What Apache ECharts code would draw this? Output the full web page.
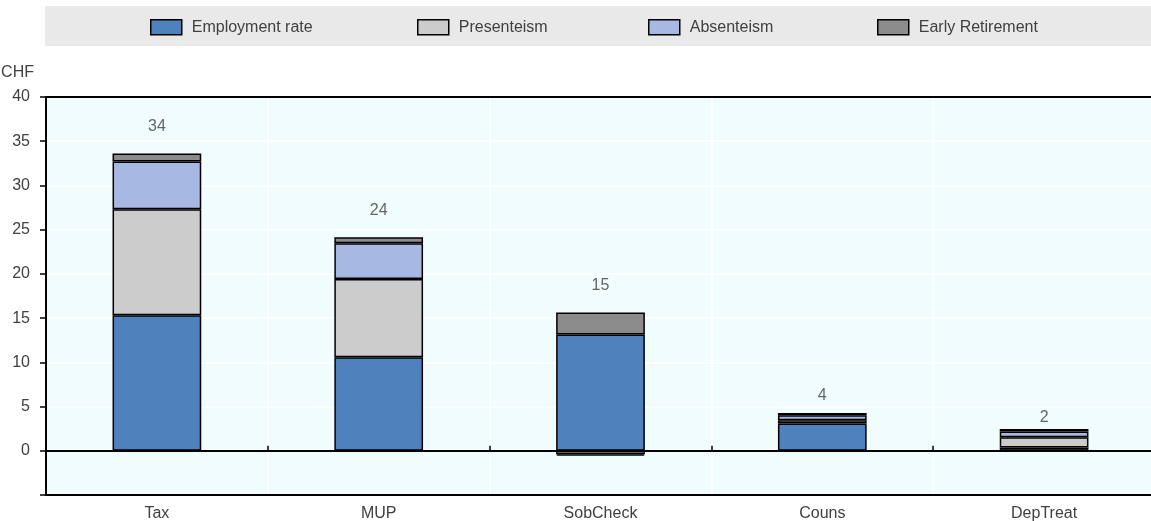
<!DOCTYPE html>
<html>
<head>
<meta charset="utf-8">
<script src="https://cdn.jsdelivr.net/npm/echarts@6/dist/echarts.min.js"></script>
<style>
  html, body { margin: 0; padding: 0; background: #ffffff; }
  #chart { width: 1151px; height: 521px; }
</style>
</head>
<body>
<div id="chart"></div>
<script>
// Net benefit per intervention, split by outcome channel (CHF)
const categories = ['Tax', 'MUP', 'SobCheck', 'Couns', 'DepTreat'];
const employmentRate = [15.33, 10.57, 13.14, 3.09, 0.37];
const presenteeism = [11.98, 8.84, -0.40, 0.37, 1.15];
const absenteeism = [5.39, 4.05, -0.15, 0.57, 0.65];
const earlyRetirement = [0.91, 0.68, 2.50, 0.23, 0.28];
const yTicks = [-5, 0, 5, 10, 15, 20, 25, 30, 35, 40];

const FONT = '"Liberation Sans", Arial, sans-serif';
const TEXT = '#404040';

const seriesDefs = [
  { name: 'Employment rate', data: employmentRate, color: '#4f81bd' },
  { name: 'Presenteism', data: presenteeism, color: '#cccccc' },
  { name: 'Absenteism', data: absenteeism, color: '#a7b9e3' },
  { name: 'Early Retirement', data: earlyRetirement, color: '#8c8c8c' }
];

// Net total (label text) and top of the positive stack (label anchor)
const totals = categories.map((c, i) =>
  seriesDefs.reduce((s, d) => s + d.data[i], 0));
const positiveTops = categories.map((c, i) =>
  seriesDefs.reduce((s, d) => s + Math.max(0, d.data[i]), 0));
const labelGap = [19, 19, 19, 10, 4];

const chart = echarts.init(document.getElementById('chart'), null, { renderer: 'canvas' });

const legendLeft = [150, 417, 648, 877];
const yMax = yTicks[yTicks.length - 1];

const option = {
  animation: false,
  textStyle: { fontFamily: FONT },
  graphic: [{
    type: 'rect',
    left: 45, top: 6,
    shape: { width: 1106, height: 40 },
    style: { fill: '#e9e9e9' },
    z: -10
  }],
  legend: seriesDefs.map((d, i) => ({
    data: [d.name],
    left: legendLeft[i],
    top: 19,
    padding: 0,
    icon: 'rect',
    itemWidth: 31,
    itemHeight: 15,
    selectedMode: false,
    itemStyle: { borderColor: '#000', borderWidth: 1.5 },
    textStyle: { fontFamily: FONT, fontSize: 16, color: TEXT, padding: [0, 0, 0, 5] }
  })),
  grid: {
    left: 46, right: -4, top: 97, bottom: 26,
    outerBoundsMode: 'none',
    containLabel: false,
    show: true,
    backgroundColor: '#f1fcff',
    borderWidth: 0
  },
  xAxis: [{
    type: 'category',
    data: categories,
    position: 'bottom',
    axisLine: { show: true, onZero: false, lineStyle: { color: '#000', width: 2 } },
    axisTick: { show: false },
    splitLine: { show: true, lineStyle: { color: '#ffffff', width: 1.5 } },
    axisLabel: { fontFamily: FONT, fontSize: 16, color: TEXT, margin: 11 }
  }, {
    type: 'category',
    data: categories,
    position: 'top',
    axisLine: { show: true, onZero: true, lineStyle: { color: '#000', width: 2 } },
    axisTick: { show: true, length: 5, lineStyle: { color: '#000', width: 1.5 } },
    axisLabel: { show: false },
    splitLine: { show: false }
  }],
  yAxis: {
    type: 'value',
    min: yTicks[0],
    max: yMax,
    interval: 5,
    name: 'CHF',
    nameLocation: 'end',
    nameGap: 16,
    nameTextStyle: { fontFamily: FONT, fontSize: 16, color: TEXT, align: 'right', padding: [0, 12, 0, 0] },
    axisLine: { show: true, lineStyle: { color: '#000', width: 2 } },
    axisTick: { show: true, length: 6, lineStyle: { color: '#000', width: 1.5 } },
    axisLabel: {
      fontFamily: FONT, fontSize: 16, color: TEXT, margin: 16,
      formatter: v => (v < 0 ? '' : String(v))
    },
    splitLine: { show: true, lineStyle: { color: '#ffffff', width: 1.5 } }
  },
  series: seriesDefs.map(d => ({
    name: d.name,
    type: 'bar',
    stack: 'total',
    xAxisIndex: 0,
    barWidth: '40%',
    data: d.data,
    itemStyle: { color: d.color, borderColor: '#000', borderWidth: 1.5 }
  })).concat([{
    name: 'Total',
    type: 'scatter',
    xAxisIndex: 0,
    symbolSize: 0,
    silent: true,
    data: categories.map((c, i) => ({
      value: [c, positiveTops[i], totals[i]],
      label: { distance: labelGap[i] }
    })),
    label: {
      show: true,
      position: 'top',
      fontFamily: FONT,
      fontSize: 16,
      color: TEXT,
      formatter: p => String(Math.round(p.value[2]))
    },
    // top frame line of the plot area
    markLine: {
      silent: true,
      symbol: ['none', 'none'],
      label: { show: false },
      lineStyle: { color: '#000', width: 2, type: 'solid' },
      data: [{ yAxis: yMax }]
    },
    z: 5
  }])
};

chart.setOption(option);
</script>
</body>
</html>
